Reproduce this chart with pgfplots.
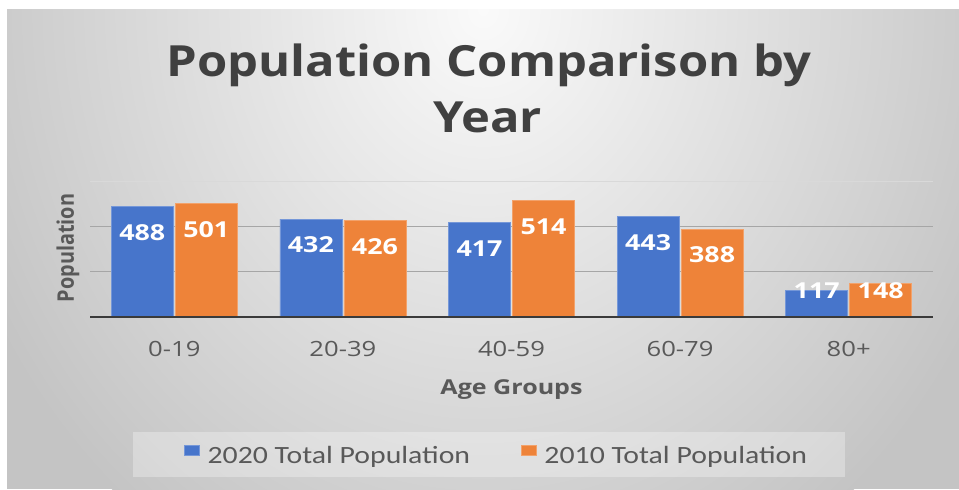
\documentclass[border=0pt]{standalone}
\usepackage{fontspec}
\usepackage{pgfplots}
\pgfplotsset{compat=1.18}
\setmainfont{Open Sans}
\newfontfamily\ttlfont[FakeStretch=1.14]{Open Sans}
\newfontfamily\lblfont[FakeStretch=1.22]{Open Sans}
\newfontfamily\dlfont[FakeStretch=1.22]{Open Sans}
\newfontfamily\lgdfont[FakeStretch=1.2]{Carlito}
\definecolor{cblue}{HTML}{4775CB}
\definecolor{corange}{HTML}{EE8339}
\definecolor{ctxt}{HTML}{595959}
\definecolor{cttl}{HTML}{404040}
\definecolor{bgin}{HTML}{FAFAFA}
\definecolor{bgout}{HTML}{C4C4C4}
\definecolor{cgrid}{HTML}{A6A6A6}
\definecolor{cgridlt}{HTML}{D9D9D9}
\definecolor{caxis}{HTML}{3A3A3A}
\begin{document}
\begin{tikzpicture}
\useasboundingbox (0pt,0pt) rectangle (719.25pt,366.75pt);
\fill[white] (0pt,0pt) rectangle (719.25pt,366.75pt);
\fill[bgout] (5.25pt,0pt) rectangle (719.25pt,359.25pt);
\begin{scope}
\clip (5.25pt,0pt) rectangle (719.25pt,359.25pt);
\shade[inner color=bgin, outer color=bgout] (362.25pt,359.25pt) ellipse (420pt and 480pt);
\end{scope}
% legend backdrop
\fill[white, opacity=0.3] (99.75pt,9pt) rectangle (633.75pt,42.75pt);
% title
\node[anchor=base, inner sep=0pt, text=cttl, font=\ttlfont\fontsize{32.2}{38}\selectfont\bfseries] at (366.75pt,309.4pt) {Population Comparison by};
\node[anchor=base, inner sep=0pt, text=cttl, font=\ttlfont\fontsize{32.2}{38}\selectfont\bfseries] at (365.6pt,267.2pt) {Year};
\begin{axis}[
  at={(67.5pt,129pt)}, anchor=south west,
  scale only axis, width=632.25pt, height=102pt,
  xmin=-0.5, xmax=4.5, ymin=0, ymax=600,
  /pgf/number format/assume math mode=true,
  ybar, bar width=46.5pt,
  xtick={0,1,2,3,4},
  xticklabels={0-19,20-39,40-59,60-79,80+},
  xticklabel style={anchor=center, yshift=-24pt, text=ctxt, font=\lblfont\fontsize{15.75}{18}\selectfont, inner sep=0pt},
  ytick={200,400}, yticklabels={},
  ymajorgrids, major grid style={cgrid, line width=1.1pt},
  major tick length=0pt, tick style={draw=none},
  axis line style={draw=none},
  xlabel={Age Groups},
  xlabel style={at={(axis description cs:0.5,0)}, anchor=base, yshift=-57.75pt, inner sep=0pt, text=ctxt, font=\lblfont\fontsize{15.4}{18}\selectfont\bfseries},
  ylabel={\scalebox{1}[1.15]{Population}},
  ylabel style={at={(axis description cs:-0.0261,0.507)}, anchor=center, inner sep=0pt, text=ctxt, font=\fontsize{14.9}{17}\selectfont\bfseries},
  legend columns=2,
  legend image code/.code={\fill[#1] (0pt,0.75pt) rectangle (11.25pt,8.25pt);},
  legend style={draw=none, fill=none, inner sep=0pt, outer sep=0pt,
    at={(0.1115,-1.018)}, anchor=west,
    font=\lgdfont\fontsize{18.6}{22}\selectfont, text=ctxt,
    nodes={inner sep=0pt},
    /tikz/every odd column/.append style={column sep=6pt},
    /tikz/every even column/.append style={column sep=38pt}},
  nodes near coords={\pgfmathprintnumber{\pgfplotspointmeta}},
  visualization depends on={y \as \rawy},
  every node near coord/.append style={anchor=center, text=white, inner sep=0pt,
    font=\dlfont\fontsize{16.5}{18}\selectfont\bfseries,
    yshift={-min(19.5,\rawy*0.17-19.5)*1pt}},
]
\addplot[fill=cblue, draw=cblue!75!white, line width=0.5pt, bar shift=-24pt]
  coordinates {(0,488) (1,432) (2,417) (3,443) (4,117)};
\addplot[fill=corange, draw=corange!75!white, line width=0.5pt, bar shift=24pt]
  coordinates {(0,501) (1,426) (2,514) (3,388) (4,148)};
\legend{2020 Total Population, 2010 Total Population}
\draw[cgridlt, line width=1.1pt] (rel axis cs:0,1) -- (rel axis cs:1,1);
\draw[caxis, line width=2.25pt] (rel axis cs:0,0) -- (rel axis cs:1,0);
\end{axis}
\end{tikzpicture}
\end{document}
